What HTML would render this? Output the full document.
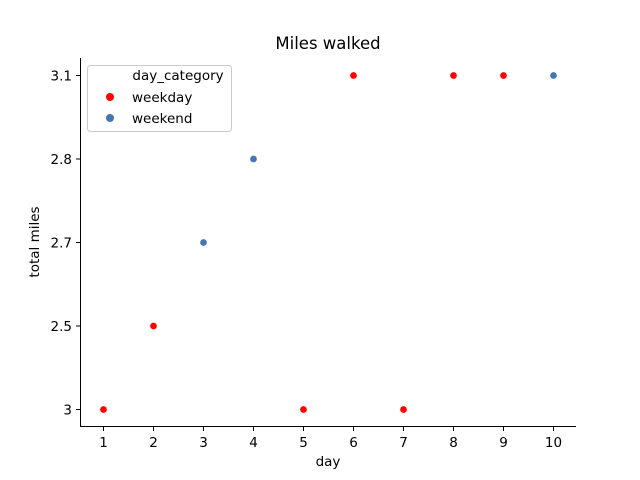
<!DOCTYPE html>
<html><head><meta charset="utf-8"><style>
body{margin:0;background:#fff}
svg{display:block;font-family:"DejaVu Sans","Liberation Sans",sans-serif}
</style></head><body>
<svg id="chart" width="640" height="480">
<rect width="640" height="480" fill="#fff"/>
<text x="328" y="49" font-size="16.5" text-anchor="middle">Miles walked</text>
<g id="axes"></g>
<g id="points"></g>
<g>
<rect x="87.5" y="65.5" width="144" height="66" rx="3" fill="#fff" stroke="#ccc"/>
<text x="178" y="80" font-size="13.5" text-anchor="middle">day_category</text>
<circle cx="110" cy="97" r="4" fill="#ff0000"/>
<text x="132" y="102" font-size="13.5">weekday</text>
<circle cx="110" cy="118" r="4" fill="#4374b3"/>
<text x="132" y="123" font-size="13.5">weekend</text>
</g>
</svg>
<script>
const days=[1,2,3,4,5,6,7,8,9,10];
const miles=["3","2.5","2.7","2.8","3","3.1","3","3.1","3.1","3.1"];
const categories=["weekday","weekday","weekend","weekend","weekday","weekday","weekday","weekday","weekday","weekend"];
const yCats=["3","2.5","2.7","2.8","3.1"];
const xTicks=[1,2,3,4,5,6,7,8,9,10];
const colors={weekday:"#ff0000",weekend:"#4374b3"};
const NS="http://www.w3.org/2000/svg";
const x=d=>103+(d-1)*50;
const y=v=>409-yCats.indexOf(v)*83.5;
function mk(tag,attrs,parent,txt){const e=document.createElementNS(NS,tag);for(const k in attrs)e.setAttribute(k,attrs[k]);if(txt!==undefined)e.textContent=txt;parent.appendChild(e);return e;}
const ax=document.getElementById('axes');
let e=mk('line',{x1:80.5,y1:58,x2:80.5,y2:426.5,stroke:'#000','stroke-width':1},ax);


e=mk('line',{x1:80,y1:426.5,x2:576,y2:426.5,stroke:'#000','stroke-width':1},ax);


xTicks.forEach(t=>{
 const tk=mk('line',{x1:x(t)+.5,y1:426.5,x2:x(t)+.5,y2:431,stroke:'#000'},ax);
 
 
 const l=mk('text',{x:x(t)+.5,y:447,'font-size':13.5,'text-anchor':'middle'},ax,String(t));
 
 
});
yCats.forEach(c=>{
 const tk=mk('line',{x1:76,y1:y(c)+.5,x2:80.5,y2:y(c)+.5,stroke:'#000'},ax);
 
 
 const l=mk('text',{x:72,y:y(c)+5.5,'font-size':13.5,'text-anchor':'end'},ax,c);
 
 
});
e=mk('text',{x:328,y:466,'font-size':13.5,'text-anchor':'middle'},ax,'day');


e=mk('text',{x:39,y:242,'font-size':13.5,'text-anchor':'middle',transform:'rotate(-90 39 242)'},ax,'total miles');


const pg=document.getElementById('points');
days.forEach((d,i)=>{
 const p=mk('circle',{cx:x(d)+.5,cy:y(miles[i])+.5,r:3.7,fill:colors[categories[i]],stroke:'#fff','stroke-width':0.7},pg);
 
 
});
</script>
</body></html>
